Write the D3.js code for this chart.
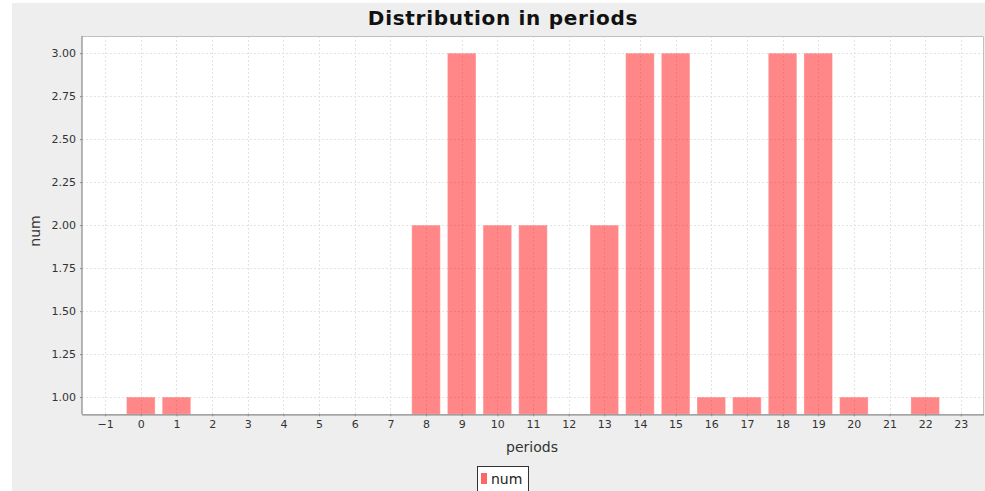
<!DOCTYPE html>
<html><head><meta charset="utf-8">
<script src="https://cdn.jsdelivr.net/npm/d3@7"></script>
<style>body{margin:0;background:#fff}svg{display:block}</style>
</head><body>
<svg id="c" width="985" height="491"></svg>
<script>
const periods = [0, 1, 8, 9, 10, 11, 13, 14, 15, 16, 17, 18, 19, 20, 22];
const nums    = [1, 1, 2, 3, 2, 2, 2, 3, 3, 1, 1, 3, 3, 1, 1];
const xTicks = d3.range(-1, 24);
const yTicks = [1.00, 1.25, 1.50, 1.75, 2.00, 2.25, 2.50, 2.75, 3.00];
const title = "Distribution in periods";
const xLabel = "periods";
const yLabel = "num";
const seriesName = "num";

const svg = d3.select("#c");
const W = 985, H = 491;
const L = 82, R = 984, T = 36, B = 414.3;

svg.append("rect").attr("x", 12).attr("y", 3).attr("width", W - 12).attr("height", H - 3).attr("fill", "#eeeeee");
svg.append("rect").attr("x", L).attr("y", T).attr("width", R - L).attr("height", B - T).attr("fill", "#ffffff");

const x = d3.scaleLinear().domain([-1.65, 23.65]).range([L, R]);
const y = d3.scaleLinear().domain([0.9, 3.1]).range([B, T]);

const grid = svg.append("g").attr("stroke", "#e3e3e3").attr("stroke-width", 1).attr("stroke-dasharray", "2,2");
grid.selectAll("line.v").data(xTicks).join("line").attr("class", "v")
  .attr("x1", d => Math.round(x(d)) + 0.5).attr("x2", d => Math.round(x(d)) + 0.5)
  .attr("y1", T).attr("y2", B);
grid.selectAll("line.h").data(yTicks).join("line").attr("class", "h")
  .attr("y1", d => Math.round(y(d)) + 0.5).attr("y2", d => Math.round(y(d)) + 0.5)
  .attr("x1", L).attr("x2", R);

const bw = 0.8;
svg.append("g").selectAll("rect").data(periods).join("rect")
  .attr("x", (d) => x(d - bw / 2))
  .attr("width", (d) => x(d + bw / 2) - x(d - bw / 2))
  .attr("y", (d, i) => y(nums[i]))
  .attr("height", (d, i) => B - y(nums[i]))
  .attr("fill", "#ff0000").attr("fill-opacity", 0.47)
  .attr("stroke", "#ffffff").attr("stroke-opacity", 0.3).attr("stroke-width", 1);

// plot outline (top/right)
svg.append("path").attr("d", `M${L},${T + 0.5}H${R - 0.5}V${B}`).attr("fill", "none").attr("stroke", "#c0c0c0");

const fontTick = "'DejaVu Sans', sans-serif";
const xAxis = svg.append("g").attr("transform", `translate(0,${B})`)
  .call(d3.axisBottom(x).tickValues(xTicks).tickSize(2).tickPadding(4).tickFormat(d => d < 0 ? "\u2212" + (-d) : d));
const yAxis = svg.append("g").attr("transform", `translate(${L},0)`)
  .call(d3.axisLeft(y).tickValues(yTicks).tickSize(2).tickPadding(4).tickFormat(d3.format(".2f")));
[xAxis, yAxis].forEach(a => {
  a.select(".domain").attr("stroke", "#888888").attr("stroke-width", 1.2);
  a.selectAll(".tick line").attr("stroke", "#888888");
  a.selectAll(".tick text").attr("fill", "#333333").style("font-family", fontTick).style("font-size", "11px");
});
xAxis.select(".domain").attr("d", `M${L},0.5H${R}`);
yAxis.select(".domain").attr("d", `M0,${T}V${B}`);

svg.append("text").attr("x", 503).attr("y", 25).attr("text-anchor", "middle")
  .style("font-family", "'DejaVu Sans', sans-serif").style("font-weight", "bold").style("font-size", "20px")
  .style("letter-spacing", "0.7px")
  .attr("fill", "#111").text(title);

svg.append("text").attr("x", 532).attr("y", 452).attr("text-anchor", "middle")
  .style("font-family", fontTick).style("font-size", "14px").attr("fill", "#333").text(xLabel);

svg.append("text").attr("transform", "translate(40,231) rotate(-90)").attr("text-anchor", "middle")
  .style("font-family", fontTick).style("font-size", "14px").attr("fill", "#333").text(yLabel);

// legend
const lg = svg.append("g");
lg.append("rect").attr("x", 477.5).attr("y", 466.5).attr("width", 51).attr("height", 30)
  .attr("fill", "#ffffff").attr("stroke", "#333333");
lg.append("rect").attr("x", 481).attr("y", 473).attr("width", 6).attr("height", 11)
  .attr("fill", "#ff0000").attr("fill-opacity", 0.6);
lg.append("text").attr("x", 491).attr("y", 484).style("font-family", fontTick).style("font-size", "14px")
  .attr("fill", "#222").text(seriesName);
</script>
</body></html>
